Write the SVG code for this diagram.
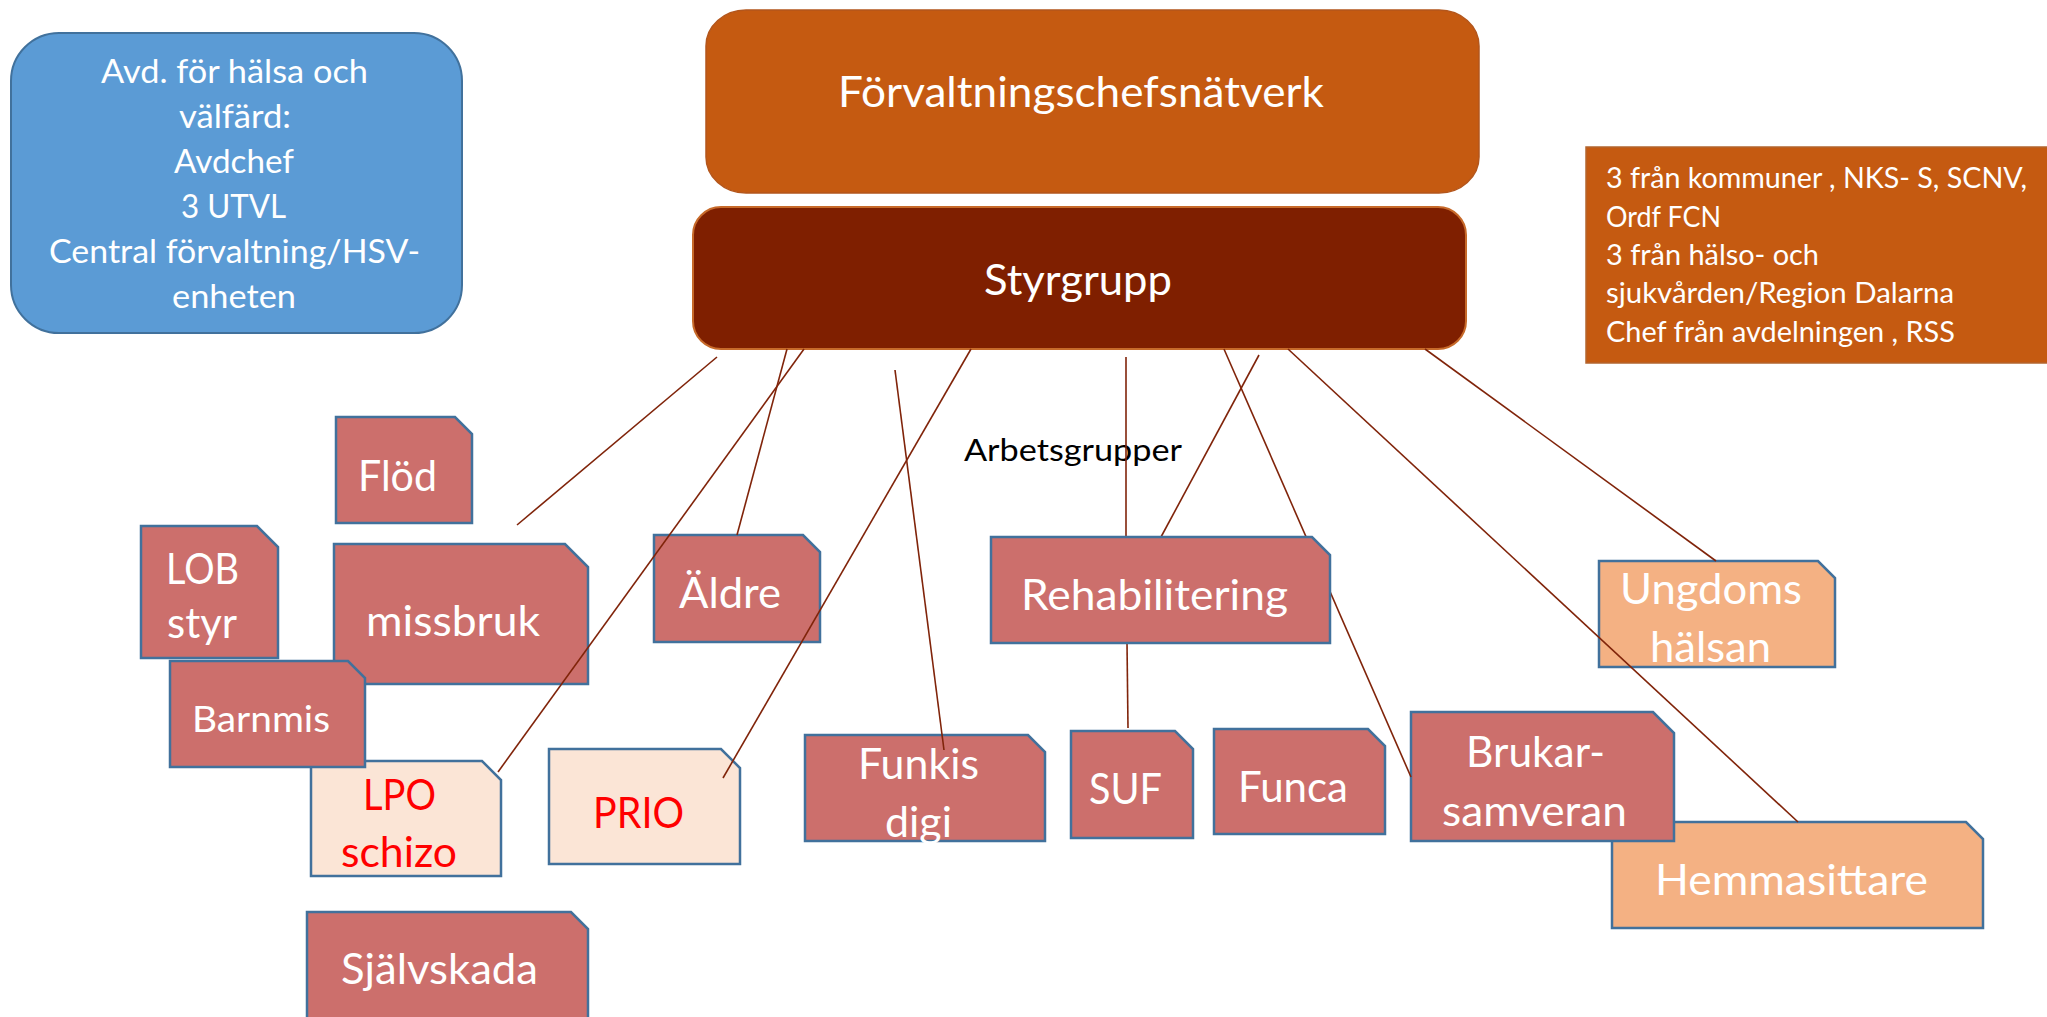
<svg xmlns="http://www.w3.org/2000/svg" width="2047" height="1017" viewBox="0 0 2047 1017">
  <style>
    text { font-family: Lato, "Open Sans", "Liberation Sans", sans-serif; }
    .w { fill: #ffffff; }
    .red { fill: #ff0000; }
    .blk { fill: #000000; }
    .f42 { font-size: 42px; }
    .node { fill: #cc6f6c; stroke: #41719c; stroke-width: 2.5; }
    .light { fill: #fbe5d6; stroke: #41719c; stroke-width: 2.5; }
    .peach { fill: #f4b183; stroke: #41719c; stroke-width: 2.5; }
    .conn line { stroke: #80240a; stroke-width: 1.6; }
  </style>

  <!-- Department box -->
  <g id="avd">
    <rect x="11" y="33" width="451" height="300" rx="48" ry="48" fill="#5b9bd5" stroke="#41719c" stroke-width="2"/>
    <g class="w" font-size="32">
      <text x="101" y="83" textLength="267" lengthAdjust="spacingAndGlyphs">Avd. för hälsa och</text>
      <text x="179" y="128" textLength="112" lengthAdjust="spacingAndGlyphs">välfärd:</text>
      <text x="174" y="173" textLength="120" lengthAdjust="spacingAndGlyphs">Avdchef</text>
      <text x="181" y="218" textLength="105" lengthAdjust="spacingAndGlyphs">3 UTVL</text>
      <text x="49" y="263" textLength="371" lengthAdjust="spacingAndGlyphs">Central förvaltning/HSV-</text>
      <text x="172" y="308" textLength="124" lengthAdjust="spacingAndGlyphs">enheten</text>
    </g>
  </g>

  <!-- Management network -->
  <g id="forvaltningschefsnatverk">
    <rect x="706" y="10" width="773" height="183" rx="40" ry="36" fill="#c55a11" stroke="#b3561c" stroke-width="1.5"/>
    <text class="w" x="838" y="107" font-size="43" textLength="486" lengthAdjust="spacingAndGlyphs">Förvaltningschefsnätverk</text>
  </g>

  <!-- Steering group -->
  <g id="styrgrupp">
    <rect x="693" y="207" width="773" height="142" rx="28" ry="28" fill="#7f1f00" stroke="#c76a2a" stroke-width="2"/>
    <text class="w" x="984" y="295" font-size="43" textLength="188" lengthAdjust="spacingAndGlyphs">Styrgrupp</text>
  </g>

  <!-- Steering group members -->
  <g id="medlemmar">
    <rect x="1586" y="147" width="470" height="216" fill="#c55a11" stroke="#b3652f" stroke-width="1.5"/>
    <g class="w" font-size="28">
      <text x="1606" y="188" textLength="421" lengthAdjust="spacingAndGlyphs">3 från kommuner , NKS- S, SCNV,</text>
      <text x="1606" y="227" textLength="115" lengthAdjust="spacingAndGlyphs">Ordf FCN</text>
      <text x="1606" y="265" textLength="213" lengthAdjust="spacingAndGlyphs">3 från hälso- och</text>
      <text x="1606" y="303" textLength="348" lengthAdjust="spacingAndGlyphs">sjukvården/Region Dalarna</text>
      <text x="1606" y="342" textLength="349" lengthAdjust="spacingAndGlyphs">Chef från avdelningen , RSS</text>
    </g>
  </g>

  <g id="arbetsgrupper">
    <text class="blk" x="964" y="461" font-size="30" textLength="218" lengthAdjust="spacingAndGlyphs">Arbetsgrupper</text>
  </g>

  <!-- Working groups (snipped-corner shapes) -->
  <g id="ungdomshalsan">
    <path class="peach" d="M1599,561 H1818 L1835,578 V667 H1599 Z"/>
    <text class="w f42" x="1620" y="604" textLength="182" lengthAdjust="spacingAndGlyphs">Ungdoms</text>
    <text class="w f42" x="1650" y="662" textLength="121" lengthAdjust="spacingAndGlyphs">hälsan</text>
  </g>

  <g id="hemmasittare">
    <path class="peach" d="M1612,822 H1966 L1983,839 V928 H1612 Z"/>
    <text class="w f42" x="1655" y="895" textLength="273" lengthAdjust="spacingAndGlyphs">Hemmasittare</text>
  </g>

  <g id="brukarsamveran">
    <path class="node" d="M1411,712 H1653 L1674,733 V841 H1411 Z"/>
    <text class="w f42" x="1466" y="767" textLength="139" lengthAdjust="spacingAndGlyphs">Brukar-</text>
    <text class="w f42" x="1442" y="826" textLength="185" lengthAdjust="spacingAndGlyphs">samveran</text>
  </g>

  <g id="flod">
    <path class="node" d="M336,417 H455 L472,434 V523 H336 Z"/>
    <text class="w f42" x="358" y="491" textLength="79" lengthAdjust="spacingAndGlyphs">Flöd</text>
  </g>

  <g id="lob-styr">
    <path class="node" d="M141,526 H257 L278,547 V658 H141 Z"/>
    <text class="w f42" x="166" y="584" textLength="73" lengthAdjust="spacingAndGlyphs">LOB</text>
    <text class="w f42" x="167" y="638" textLength="70" lengthAdjust="spacingAndGlyphs">styr</text>
  </g>

  <g id="missbruk">
    <path class="node" d="M334,544 H565 L588,567 V684 H334 Z"/>
    <text class="w f42" x="366" y="636" textLength="174" lengthAdjust="spacingAndGlyphs">missbruk</text>
  </g>

  <g id="lpo-schizo">
    <path class="light" d="M311,761 H482 L501,780 V876 H311 Z"/>
    <text class="red f42" x="363" y="810" textLength="73" lengthAdjust="spacingAndGlyphs">LPO</text>
    <text class="red f42" x="341" y="867" textLength="116" lengthAdjust="spacingAndGlyphs">schizo</text>
  </g>

  <g id="barnmis">
    <path class="node" d="M170,661 H348 L365,678 V767 H170 Z"/>
    <text class="w" x="192" y="732" font-size="37" textLength="138" lengthAdjust="spacingAndGlyphs">Barnmis</text>
  </g>

  <g id="prio">
    <path class="light" d="M549,749 H721 L740,768 V864 H549 Z"/>
    <text class="red f42" x="593" y="828" textLength="91" lengthAdjust="spacingAndGlyphs">PRIO</text>
  </g>

  <g id="sjalvskada">
    <path class="node" d="M307,912 H571 L588,929 V1030 H307 Z"/>
    <text class="w f42" x="341" y="984" textLength="197" lengthAdjust="spacingAndGlyphs">Självskada</text>
  </g>

  <g id="aldre">
    <path class="node" d="M654,535 H803 L820,552 V642 H654 Z"/>
    <text class="w f42" x="679" y="608" textLength="102" lengthAdjust="spacingAndGlyphs">Äldre</text>
  </g>

  <g id="funkis-digi">
    <path class="node" d="M805,735 H1028 L1045,752 V841 H805 Z"/>
    <text class="w f42" x="858" y="779" textLength="121" lengthAdjust="spacingAndGlyphs">Funkis</text>
    <text class="w f42" x="885" y="837" textLength="67" lengthAdjust="spacingAndGlyphs">digi</text>
  </g>

  <g id="suf">
    <path class="node" d="M1071,731 H1175 L1193,749 V838 H1071 Z"/>
    <text class="w f42" x="1089" y="804" textLength="73" lengthAdjust="spacingAndGlyphs">SUF</text>
  </g>

  <g id="funca">
    <path class="node" d="M1214,729 H1368 L1385,746 V834 H1214 Z"/>
    <text class="w f42" x="1238" y="802" textLength="110" lengthAdjust="spacingAndGlyphs">Funca</text>
  </g>

  <!-- Connectors from the steering group to the working groups -->
  <g id="connectors" class="conn">
    <line x1="717" y1="357" x2="517" y2="525"/>
    <line x1="787" y1="349" x2="737" y2="535"/>
    <line x1="804" y1="349" x2="498" y2="772"/>
    <line x1="895" y1="370" x2="944" y2="750"/>
    <line x1="971" y1="349" x2="723" y2="778"/>
    <line x1="1126" y1="357" x2="1126" y2="537"/>
    <line x1="1259" y1="355" x2="1161" y2="537"/>
    <line x1="1224" y1="349" x2="1411" y2="777"/>
    <line x1="1288" y1="349" x2="1798" y2="822"/>
    <line x1="1425" y1="349" x2="1716" y2="561"/>
    <line x1="1127" y1="643" x2="1128" y2="728"/>
  </g>

  <g id="rehabilitering">
    <path class="node" d="M991,537 H1312 L1330,555 V643 H991 Z"/>
    <text class="w f42" x="1021" y="610" textLength="267" lengthAdjust="spacingAndGlyphs">Rehabilitering</text>
  </g>
</svg>
